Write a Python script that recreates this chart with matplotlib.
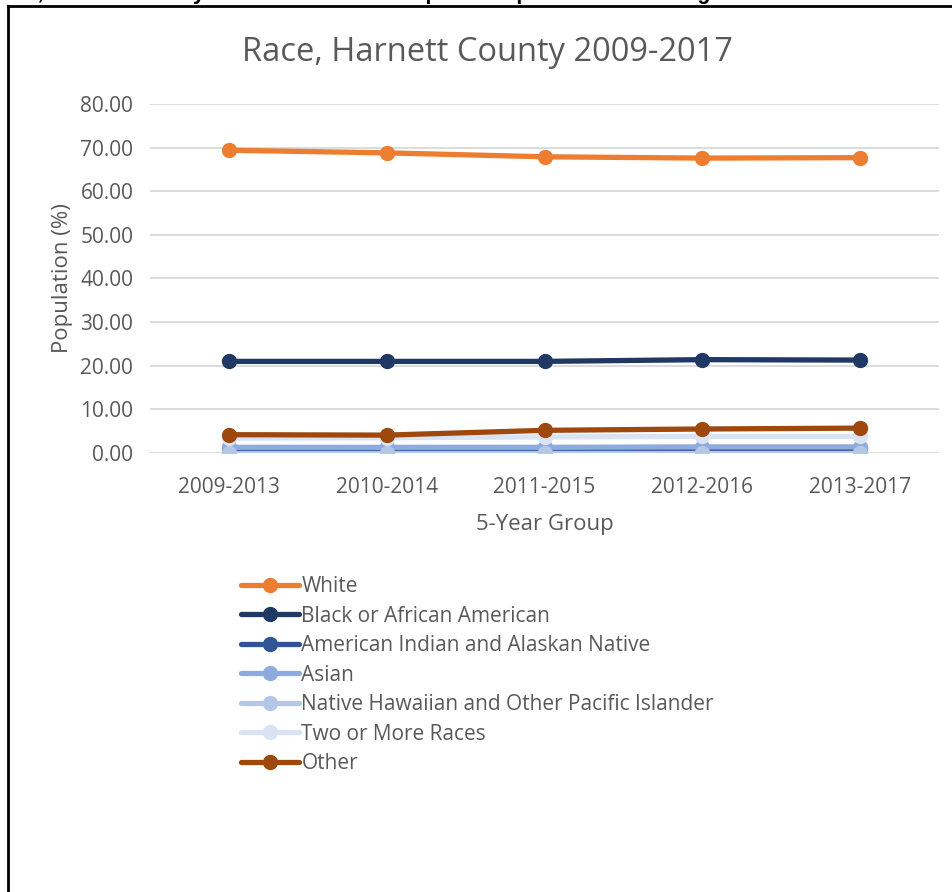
import numpy as np
import matplotlib.pyplot as plt
from matplotlib.lines import Line2D

# data
groups = ['2009-2013', '2010-2014', '2011-2015', '2012-2016', '2013-2017']
series_names = ['White', 'Black or African American', 'American Indian and Alaskan Native',
                'Asian', 'Native Hawaiian and Other Pacific Islander', 'Two or More Races', 'Other']
white = [69.4, 68.8, 67.9, 67.6, 67.7]
black = [21.0, 21.0, 21.0, 21.4, 21.3]
am_indian = [1.1, 1.1, 1.1, 1.1, 1.1]
asian = [1.3, 1.3, 1.3, 1.4, 1.4]
nh_pi = [0.1, 0.1, 0.1, 0.1, 0.1]
two_more = [3.4, 3.5, 3.7, 3.8, 3.8]
other = [4.2, 4.1, 5.2, 5.5, 5.7]
colors = ['#ED7D31', '#203864', '#2F5597', '#8FAADC', '#B4C7E7', '#DAE3F3', '#9E480E']

plt.rcParams['font.family'] = ['Open Sans', 'DejaVu Sans']
W, H = 952, 892
fig = plt.figure(figsize=(W / 100, H / 100), dpi=100)
ax = fig.add_axes([150 / W, 1 - 453 / H, 789 / W, 349 / H])

x = np.arange(len(groups))
for name, vals, c in zip(series_names, [white, black, am_indian, asian, nh_pi, two_more, other], colors):
    ax.plot(x, vals, color=c, lw=3.8, marker='o', ms=10, label=name, solid_capstyle='round')

ax.set_xlim(-0.5, len(groups) - 0.5)
ax.set_ylim(0, 80)
ax.set_yticks(np.arange(0, 81, 10))
ax.set_yticklabels([f'{v:.2f}' for v in np.arange(0, 81, 10)])
ax.set_xticks(x)
ax.set_xticklabels(groups)
ax.tick_params(length=0, labelsize=15, colors='#595959')
ax.tick_params(axis='x', pad=17)
ax.tick_params(axis='y', pad=12)
ax.grid(axis='y', color='#D9D9D9', lw=1.3)
ax.set_axisbelow(True)
for s in ax.spines.values():
    s.set_visible(False)
ax.set_ylabel('Population (%)', fontsize=16, color='#595959', labelpad=5)
ax.set_xlabel('5-Year Group', fontsize=16, color='#595959', labelpad=12)
ax.set_title('Race, Harnett County 2009-2017', fontsize=23.5, color='#595959', pad=31, x=0.428)

ax.legend(loc='upper left', bbox_to_anchor=(241 / W, 1 - 576 / H), bbox_transform=fig.transFigure,
          frameon=False, fontsize=15, labelcolor='#595959', handlelength=2.8, handletextpad=0.1,
          labelspacing=0.41, borderpad=0, borderaxespad=0)

# frame of the embedded chart and clipped heading above it
fig.add_artist(Line2D([8 / W, 8 / W], [0, 1 - 6 / H], color='black', lw=2, transform=fig.transFigure))
fig.add_artist(Line2D([8 / W, 1], [1 - 6 / H, 1 - 6 / H], color='black', lw=2, transform=fig.transFigure))
fig.text(-14 / W, 1 + 1 / H, 'Race, Harnett County Race for 5-Year Group and Population Percentage',
         fontsize=15.5, fontweight='bold', family='Liberation Sans', va='baseline', ha='left')

fig.savefig('out.png', dpi=100)
